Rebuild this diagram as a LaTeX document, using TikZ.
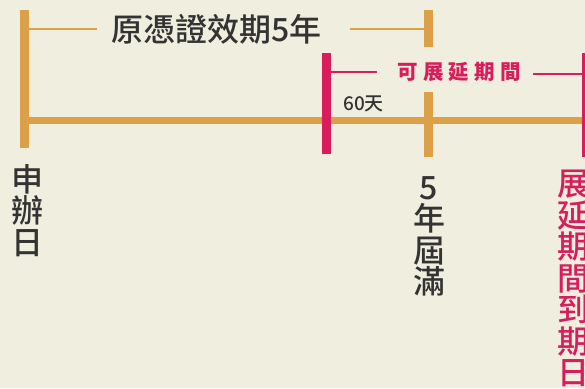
\documentclass[tikz,border=0pt]{standalone}
\usepackage{fontspec}
\newfontfamily\cjk{Noto Sans CJK TC Medium}
\definecolor{bgc}{HTML}{F0EEDF}
\definecolor{orng}{HTML}{DBA048}
\definecolor{pnk}{HTML}{D91C5C}
\definecolor{txt}{HTML}{333333}
\begin{document}
\begin{tikzpicture}[x=1pt,y=-1pt,
  obar/.style={draw=orng,line width=9pt},
  pbar/.style={draw=pnk,line width=9pt},
  oline/.style={draw=orng,line width=1.6pt},
  pline/.style={draw=pnk,line width=1.6pt},
  axis/.style={draw=orng,line width=7pt},
  lbl/.style={inner sep=0pt,text=txt,font=\cjk},
  vlbl/.style={inner sep=0pt,anchor=north,align=center}]
\fill[bgc] (0,0) rectangle (585,388);
\clip (0,0) rectangle (585,388);
\useasboundingbox (0,0) rectangle (585,388);
% coordinates
\coordinate (a0) at (29,120.5);
\coordinate (a1) at (582,120.5);
\coordinate (l0) at (24.5,10);
\coordinate (l1) at (24.5,148);
\coordinate (f0) at (428.5,10);
\coordinate (f1) at (428.5,47);
\coordinate (g0) at (428.5,92);
\coordinate (g1) at (428.5,157);
\coordinate (p0) at (326.5,53);
\coordinate (p1) at (326.5,154);
\coordinate (q0) at (586.5,53);
\coordinate (q1) at (586.5,157);
\coordinate (t0) at (29,29);
\coordinate (t1) at (97,29);
\coordinate (t2) at (350,29);
\coordinate (t3) at (424,29);
\coordinate (r0) at (331,72);
\coordinate (r1) at (377,72);
\coordinate (r2) at (533,74);
\coordinate (r3) at (582,74);
% lines
\draw[axis] (a0) -- (a1);
\draw[obar] (l0) -- (l1);
\draw[obar] (f0) -- (f1);
\draw[obar] (g0) -- (g1);
\draw[pbar] (p0) -- (p1);
\draw[pbar] (q0) -- (q1);
\draw[oline] (t0) -- (t1);
\draw[oline] (t2) -- (t3);
\draw[pline] (r0) -- (r1);
\draw[pline] (r2) -- (r3);
% texts
\node[lbl,font=\cjk\fontsize{32}{32}\selectfont] (title) at (216.5,29) {原憑證效期5年};
\node[lbl,text=pnk,font=\cjk\bfseries\fontsize{20.5}{21}\selectfont] (ext) at (459,72) {可\hspace{5.2pt}展\hspace{5.2pt}延\hspace{5.2pt}期\hspace{5.2pt}間};
\node[lbl,font=\cjk\fontsize{19}{19}\selectfont] (d60) at (363.5,103.5) {60天};
\node[lbl,vlbl,font=\cjk\fontsize{32}{31.5}\selectfont] (apply) at (28,164) {申\\辦\\日};
\node[lbl,vlbl,font=\cjk\fontsize{32}{31.5}\selectfont] (due) at (429,176) {5\\年\\屆\\滿};
\node[lbl,vlbl,text=pnk,font=\cjk\fontsize{32}{31.5}\selectfont] (end) at (573,170) {展\\延\\期\\間\\到\\期\\日};
\end{tikzpicture}
\end{document}
